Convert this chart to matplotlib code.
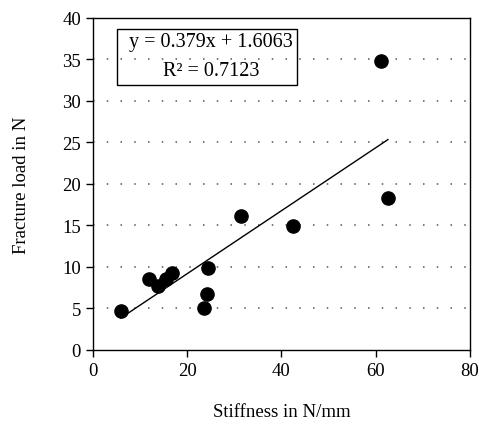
import numpy as np
import matplotlib.pyplot as plt
from matplotlib.patches import Rectangle

# Rigidez (N/mm) y carga de fractura (N)
stiffness = [5.9, 11.9, 13.8, 15.5, 16.7, 23.5, 24.2, 24.4, 31.5, 42.4, 61.1, 62.6]
fracture = [4.7, 8.6, 7.7, 8.6, 9.3, 5.1, 6.7, 9.9, 16.1, 14.9, 34.8, 18.3]

# Recta de tendencia
pendiente = 0.379
ordenada = 1.6063
r2 = 0.7123

plt.rcParams['font.family'] = ['Liberation Serif', 'DejaVu Serif']

fig = plt.figure(figsize=(4.79, 4.27), dpi=100)
ax = fig.add_axes([0.194, 0.178, 0.787, 0.778])

for yv in range(5, 40, 5):
    ax.axhline(yv, color='#555555', linewidth=1.1, linestyle=(0, (1, 8)), zorder=1)

xs = np.array([min(stiffness), max(stiffness)])
ax.plot(xs, pendiente * xs + ordenada, color='black', linewidth=1.0, zorder=2)
ax.plot(stiffness, fracture, 'o', color='black', markersize=9.5, zorder=3)

# Cuadro con la ecuación
ax.add_patch(Rectangle((5.1, 31.9), 38.3, 6.8, facecolor='none', edgecolor='black',
                       linewidth=1.0, zorder=4))
ax.text(25, 37.1, f'y = {pendiente}x + {ordenada}', ha='center', va='center', fontsize=14.5)
ax.text(25, 33.6, f'R\u00b2 = {r2}', ha='center', va='center', fontsize=14.5)

ax.set_xlim(0, 80)
ax.set_ylim(0, 40)
ax.set_xticks([0, 20, 40, 60, 80])
ax.set_yticks(range(0, 45, 5))
ax.tick_params(direction='out', length=5, labelsize=13.5, width=1)
for s in ax.spines.values():
    s.set_linewidth(1)
ax.set_xlabel('Stiffness in N/mm', fontsize=13.5)
ax.set_ylabel('Fracture load in N', fontsize=13.5)
ax.xaxis.set_label_coords(0.5, -0.16)
ax.yaxis.set_label_coords(-0.168, 0.5)

fig.savefig('out.png', dpi=100)
